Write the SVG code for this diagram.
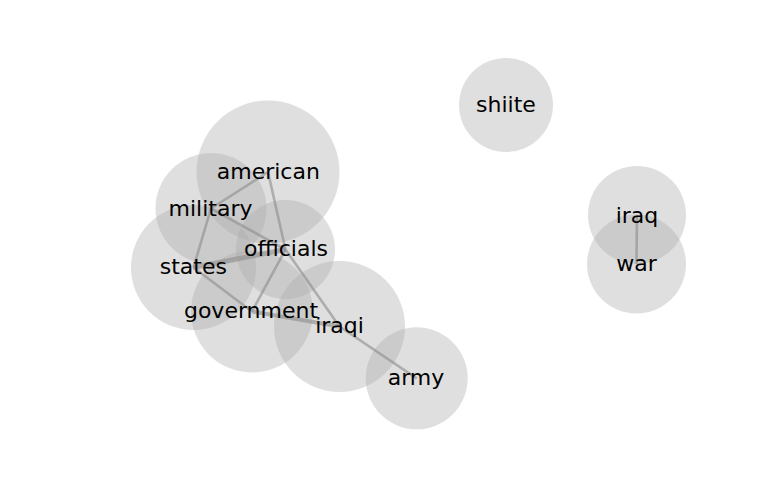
<svg xmlns="http://www.w3.org/2000/svg" width="768" height="500" viewBox="0 0 768 500">
<style>
.node circle{fill:#aaaaaa;fill-opacity:0.38;stroke:none}
.node text{font-family:"DejaVu Sans",sans-serif;font-size:22px;fill:#000;text-anchor:middle}
.edges line{stroke:#8c8c8c;stroke-opacity:0.6;stroke-width:2.6;stroke-linecap:butt}
</style>
<rect width="768" height="500" fill="#ffffff"/>
<g id="node-circles">
<g class="node"><circle cx="506" cy="105" r="47"/></g>
<g class="node"><circle cx="637" cy="215" r="49"/></g>
<g class="node"><circle cx="636.5" cy="264" r="49.5"/></g>
<g class="node"><circle cx="268" cy="172" r="71.5"/></g>
<g class="node"><circle cx="211" cy="208.5" r="55.5"/></g>
<g class="node"><circle cx="285.5" cy="249.5" r="49.5"/></g>
<g class="node"><circle cx="193.5" cy="267.5" r="62.5"/></g>
<g class="node"><circle cx="252" cy="311.5" r="61"/></g>
<g class="node"><circle cx="339.5" cy="326.5" r="65.5"/></g>
<g class="node"><circle cx="416.7" cy="378.3" r="51"/></g>
</g>
<g id="connectors" class="edges">
<line x1="268" y1="172" x2="211" y2="208.5"/>
<line x1="268" y1="172" x2="285.5" y2="249.5"/>
<line x1="211" y1="208.5" x2="285.5" y2="249.5"/>
<line x1="211" y1="208.5" x2="193.5" y2="267.5"/>
<line x1="193.5" y1="267.5" x2="285.5" y2="249.5" style="stroke-width:5"/>
<line x1="193.5" y1="267.5" x2="252" y2="311.5"/>
<line x1="285.5" y1="249.5" x2="252" y2="311.5"/>
<line x1="252" y1="311.5" x2="339.5" y2="326.5" style="stroke-width:4"/>
<line x1="285.5" y1="249.5" x2="339.5" y2="326.5"/>
<line x1="339.5" y1="326.5" x2="416.7" y2="378.3"/>
<line x1="637" y1="215" x2="636.5" y2="264"/>
</g>
<g id="node-shiite" class="node"><text x="506" y="112.3">shiite</text></g>
<g id="node-iraq" class="node"><text x="637" y="223">iraq</text></g>
<g id="node-war" class="node"><text x="636.5" y="270.7">war</text></g>
<g id="node-american" class="node"><text x="268.3" y="178.5">american</text></g>
<g id="node-military" class="node"><text x="210.5" y="216">military</text></g>
<g id="node-officials" class="node"><text x="286" y="255.7">officials</text></g>
<g id="node-states" class="node"><text x="193.3" y="273.5">states</text></g>
<g id="node-government" class="node"><text x="251" y="318.3">government</text></g>
<g id="node-iraqi" class="node"><text x="339.5" y="333.3">iraqi</text></g>
<g id="node-army" class="node"><text x="416" y="385">army</text></g>
</svg>
